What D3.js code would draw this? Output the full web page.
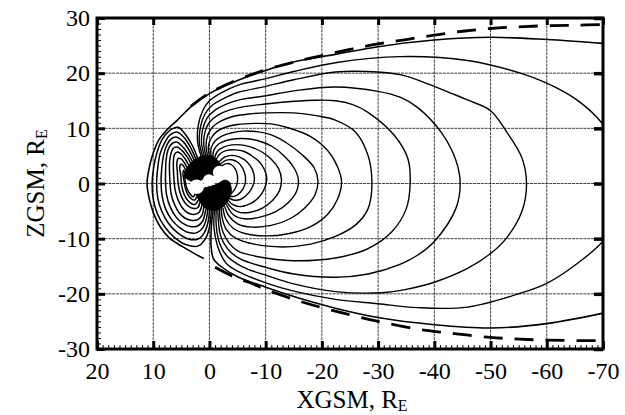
<!DOCTYPE html>
<html><head><meta charset="utf-8">
<script src="https://cdn.jsdelivr.net/npm/d3@7"></script>
<style>body{margin:0;background:#fff}svg{display:block}</style>
</head><body><svg id="c" width="625" height="415"></svg>
<script>
// ---- tick labels ----
const xTicks = [20, 10, 0, -10, -20, -30, -40, -50, -60, -70];
const zTicks = [30, 20, 10, 0, -10, -20, -30];

// ---- field lines (XGSM, ZGSM in Earth radii) ----
const dayLoops = [
 [[2.1,4.6],[3.0,6.8],[4.2,8.8],[5.6,10.2],[7.1,9.6],[8.4,8.0],[9.3,5.7],[9.9,3.0],[10.2,0],[10.0,-2.8],[9.3,-5.4],[8.0,-7.8],[6.2,-9.8],[4.1,-11.1],[2.0,-11.3],[0.6,-9.8],[-0.1,-7.4],[-0.3,-5.0]],
 [[2.4,4.4],[3.3,6.4],[4.4,8.2],[5.7,9.3],[7.0,8.8],[8.0,7.3],[8.8,5.3],[9.2,2.8],[9.4,0],[9.2,-2.6],[8.5,-5.0],[7.3,-7.2],[5.7,-8.9],[3.9,-10.0],[2.1,-10.1],[0.9,-8.9],[0.2,-6.8],[0,-4.9]],
 [[2.7,4.2],[3.6,6.0],[4.6,7.5],[5.8,8.4],[6.9,8.0],[7.7,6.7],[8.2,4.9],[8.5,2.6],[8.6,0],[8.4,-2.4],[7.8,-4.6],[6.7,-6.6],[5.3,-8.0],[3.7,-8.9],[2.2,-8.9],[1.1,-7.9],[0.5,-6.2],[0.3,-4.7]],
 [[3.0,3.9],[3.9,5.5],[4.8,6.7],[5.8,7.5],[6.8,7.1],[7.4,6.0],[7.7,4.4],[7.8,2.3],[7.8,0],[7.6,-2.2],[7.0,-4.2],[6.0,-6.0],[4.8,-7.2],[3.4,-7.8],[2.1,-7.7],[1.2,-6.8],[0.8,-5.5],[0.6,-4.5]],
 [[3.3,3.6],[4.1,5.0],[4.9,6.0],[5.8,6.6],[6.5,6.3],[6.9,5.2],[7.1,3.8],[7.1,2.0],[7.0,-0.1],[6.8,-2.0],[6.2,-3.8],[5.4,-5.3],[4.3,-6.3],[3.1,-6.7],[2.0,-6.5],[1.3,-5.7],[1.0,-4.2]],
 [[3.6,3.2],[4.3,4.4],[5.0,5.3],[5.7,5.7],[6.2,5.3],[6.4,4.2],[6.4,2.5],[6.3,0.6],[6.1,-1.2],[5.6,-2.9],[4.9,-4.3],[3.9,-5.3],[2.8,-5.6],[1.9,-5.3],[1.3,-3.8]],
 [[3.9,2.8],[4.5,3.8],[5.1,4.5],[5.6,4.5],[5.8,3.5],[5.7,2.0],[5.6,0.3],[5.3,-1.4],[4.8,-2.8],[4.0,-3.9],[3.0,-4.5],[2.1,-4.4],[1.7,-3.4]],
 [[4.2,2.3],[4.7,3.3],[5.1,3.5],[5.3,2.8],[5.1,1.6],[5.0,0],[4.7,-1.4],[4.2,-2.6],[3.4,-3.5],[2.6,-3.8],[2.0,-3.0]],
 [[4.3,1.8],[4.6,2.4],[4.7,1.6],[4.5,0.4],[4.3,-0.8],[3.9,-1.9],[3.3,-2.7],[2.6,-3.0],[2.3,-2.4]],
 [[4.4,1.2],[4.3,0.3],[4.0,-0.9],[3.5,-1.8],[2.9,-2.4],[2.5,-1.8]]
];

const nightLoops = [
 [[1.5,5.0],[2.1,7.5],[2.0,10.5],[1.2,13.2],[0,15.0],[-2,16.4],[-5,17.8],[-10,19.0],[-15,20.3],[-22.4,21.9],[-34,23.0],[-45.9,22.3],[-55.3,20],[-60,18.2],[-65.3,15.2],[-70,10.7],[-73,5],[-74,0],[-73,-5],[-70,-10.4],[-65.3,-14.6],[-60,-18.1],[-55.3,-19.9],[-45.9,-22.4],[-37,-22.5],[-30,-21.8],[-22.4,-21],[-15,-19.5],[-10,-18.0],[-6,-16.4],[-3,-14.5],[-1.5,-11.5],[-0.8,-8],[-0.9,-5.0]],
 [[1.2,5.0],[1.8,7.4],[1.6,10.2],[0.8,12.6],[-0.5,14.2],[-2.5,15.4],[-5,16.5],[-10,17.6],[-15,18.8],[-22.4,20.2],[-28,20.3],[-34.1,19.7],[-39,18],[-42.9,16.4],[-46,15.1],[-50,13.2],[-52.9,9.3],[-55.6,4.6],[-56.4,0],[-55.6,-5],[-52.9,-9.8],[-50,-12.7],[-45.9,-15.4],[-40,-17.9],[-35,-19.2],[-30.6,-19.8],[-22.4,-19.6],[-15,-18.2],[-10,-16.6],[-7,-15.6],[-5,-14.6],[-3,-13.0],[-1.7,-10.5],[-1.2,-7.5],[-1.2,-5.0]],
 [[0.9,5.0],[1.4,7.2],[1.2,9.8],[0.4,11.9],[-1,13.3],[-3,14.4],[-5.5,15.2],[-10,15.9],[-15,16.8],[-22.4,17.5],[-30,16.7],[-34,15.6],[-37,13.8],[-41.2,9.3],[-43.8,4.3],[-44.6,0],[-43.8,-4.6],[-40,-10.5],[-37,-13],[-34,-14.6],[-28.2,-16.4],[-22.4,-17],[-15,-16.4],[-10,-15.2],[-7,-14.3],[-5,-13.4],[-3.2,-11.8],[-2.0,-9.5],[-1.6,-7],[-1.5,-4.9]],
 [[0.6,5.0],[1.0,7.0],[0.8,9.3],[0,11.1],[-1.5,12.4],[-3.5,13.3],[-6,13.9],[-10,14.4],[-15,14.9],[-19,15.1],[-22.4,15.0],[-25.5,14.3],[-28.2,12.9],[-32.9,8.7],[-35.3,4.5],[-35.7,0],[-35,-4.6],[-32.4,-8.8],[-28.2,-11.8],[-22.4,-13.5],[-15,-14.0],[-10,-13.5],[-7,-12.9],[-5,-12.2],[-3.5,-10.8],[-2.4,-8.8],[-1.9,-6.6],[-1.8,-4.8]],
 [[0.3,5.0],[0.6,6.8],[0.3,8.8],[-0.6,10.3],[-2,11.3],[-4,12.1],[-7,12.6],[-10,12.8],[-15,12.8],[-19,12.3],[-22.4,11.5],[-26,9.3],[-28.2,5.1],[-28.9,0],[-28.2,-4.6],[-26,-7.5],[-22.4,-9.6],[-18,-11.0],[-13,-11.5],[-8,-11.0],[-4.5,-9.8],[-3.0,-8.3],[-2.3,-6.4],[-2.1,-4.6]],
 [[0,5.0],[0.2,6.6],[-0.3,8.2],[-1.3,9.4],[-2.8,10.2],[-5,10.7],[-8,10.9],[-11,10.8],[-14,10.1],[-18,8.5],[-21,6.0],[-22.8,3.0],[-23.5,0.3],[-22.8,-2.8],[-21,-5.6],[-18,-7.8],[-14,-9.1],[-10,-9.5],[-6.5,-9.1],[-4.2,-8.1],[-2.9,-6.4],[-2.4,-4.4]],
 [[-0.3,4.9],[-0.3,6.4],[-1.0,7.7],[-2.2,8.6],[-4,9.2],[-6,9.5],[-8.5,9.4],[-11,8.8],[-13.8,7.3],[-16.5,5.2],[-18.6,2.9],[-19.3,0.5],[-18.8,-2.0],[-17,-4.4],[-14.5,-6.3],[-11,-7.6],[-7.5,-7.9],[-5,-7.3],[-3.4,-5.8],[-2.7,-4.1]],
 [[-0.6,4.8],[-0.8,6.1],[-1.7,7.2],[-3,7.8],[-4.7,8.1],[-6.7,8.1],[-8.8,7.7],[-11,6.8],[-13.3,5.0],[-15.0,2.9],[-15.8,0.8],[-15.5,-1.4],[-14,-3.5],[-11.8,-5.1],[-9,-6.1],[-6.3,-6.4],[-4.3,-5.7],[-3.0,-3.8]],
 [[-0.9,4.6],[-1.4,5.8],[-2.5,6.6],[-4,7.0],[-5.6,7.0],[-7.4,6.6],[-9.2,5.8],[-11,4.4],[-12.3,2.7],[-12.8,0.8],[-12.5,-1.2],[-11.3,-3.0],[-9.5,-4.4],[-7.3,-5.2],[-5.2,-5.2],[-3.9,-4.4],[-3.2,-3.5]],
 [[-1.2,4.4],[-1.9,5.4],[-3.1,6.0],[-4.6,6.1],[-6.2,5.8],[-7.7,4.9],[-8.9,3.9],[-9.8,2.5],[-10.2,0.8],[-9.8,-0.9],[-8.8,-2.5],[-7.2,-3.7],[-5.4,-4.2],[-4.1,-3.8],[-3.4,-3.1]],
 [[-1.7,3.9],[-2.7,4.8],[-4.0,5.1],[-5.4,4.8],[-6.7,3.9],[-7.6,2.6],[-8.0,1.0],[-7.7,-0.5],[-6.8,-1.9],[-5.5,-2.9],[-4.3,-3.0],[-3.6,-2.7]],
 [[-1.9,3.5],[-2.9,4.2],[-4.0,4.3],[-5.1,3.8],[-5.9,2.8],[-6.4,1.3],[-6.3,-0.2],[-5.6,-1.5],[-4.6,-2.3],[-3.7,-2.3]],
 [[-2.1,3.1],[-3.0,3.6],[-3.9,3.4],[-4.6,2.6],[-5.0,1.3],[-4.9,-0.1],[-4.4,-1.2],[-3.8,-1.9]]
];

const openLines = [
 [[1,-13.6],[2.5,-12.8],[4.2,-11.8],[6.0,-10.7],[7.2,-9.8],[8.8,-7.8],[9.9,-5.5],[10.7,-2.8],[11.1,0],[10.8,2.4],[10.1,5.2],[9,7.9],[7.5,9.8],[5.7,11.5],[3.3,13.9],[0,16.3],[-5.1,18.7],[-10,20.5],[-15.3,22.1],[-22.4,23.4],[-30,24.8],[-40,26],[-50,26.5],[-60,26.1],[-70,25.4]],
 [[-0.6,-5.1],[-0.3,-8.5],[-0.3,-11.5],[-0.7,-13.6],[-2,-15.0],[-5,-16.9],[-10,-18.8],[-16,-20.8],[-22.4,-22.6],[-30,-24.3],[-40,-25.6],[-50,-26.2],[-60,-25.4],[-70,-23.5]]
];

const magnetopauseNorth = [[3.3,14.0],[0,16.4],[-5,18.8],[-10,20.6],[-15,22.0],[-20,23.2],[-25,24.3],[-30,25.3],[-35,26.1],[-40,26.9],[-45,27.6],[-50,28.1],[-55,28.4],[-60,28.6],[-65,28.7],[-70,28.8]];
const magnetopauseSouth = [[-1,-15.2],[-4.5,-17.0],[-7,-17.9],[-10,-19.2],[-15,-21.0],[-20,-22.5],[-25,-23.8],[-30,-25.0],[-37,-26.4],[-43.5,-27.2],[-50,-27.9],[-55,-28.2],[-60,-28.4],[-70,-28.5]];

// dense footpoint regions and white discs near Earth
const northCore = [[4.4,1.2],[4.0,2.8],[2.8,4.2],[1.0,5.1],[-0.6,4.9],[-1.8,3.8],[-2.1,2.8],[-0.8,1.5],[0.8,1.0],[2.5,0.2]];
const southCore = [[2.6,-1.2],[2.0,-2.8],[1.0,-4.2],[-0.5,-5.0],[-2.0,-4.6],[-3.3,-3.2],[-3.9,-1.5],[-3.6,0.2],[-2.6,0.6],[-1.2,-0.2],[0.8,-0.8]];
const whiteDiscs = [[2.3,-0.6,1.3],[0.1,0.6,1.05],[-1.8,2.0,1.2]];

// ---- drawing ----
const svg = d3.select("#c");
const L = 97, R = 603, T = 18, B = 349;
const x = d3.scaleLinear().domain([20, -70]).range([L, R]);
const y = d3.scaleLinear().domain([-30, 30]).range([B, T]);
const font = "'Liberation Serif','Times New Roman',serif";

svg.append("defs").append("clipPath").attr("id", "clip")
  .append("rect").attr("x", L).attr("y", T).attr("width", R - L).attr("height", B - T);

// grid
const grid = svg.append("g").attr("stroke", "#111").attr("stroke-width", 0.8).attr("stroke-dasharray", "3,0.8");
grid.selectAll("line.v").data(xTicks).join("line").attr("class", "v")
  .attr("x1", d => x(d)).attr("x2", d => x(d)).attr("y1", T).attr("y2", B);
grid.selectAll("line.h").data(zTicks).join("line").attr("class", "h")
  .attr("y1", d => y(d)).attr("y2", d => y(d)).attr("x1", L).attr("x2", R);

const plot = svg.append("g").attr("clip-path", "url(#clip)");
const line = d3.line().x(d => x(d[0])).y(d => y(d[1])).curve(d3.curveCatmullRom.alpha(0.5));

plot.selectAll("path.day").data(dayLoops).join("path").attr("class", "day")
  .attr("d", line).attr("fill", "none").attr("stroke", "#000").attr("stroke-width", 1.5);
plot.selectAll("path.night").data(nightLoops).join("path").attr("class", "night")
  .attr("d", line).attr("fill", "none").attr("stroke", "#000").attr("stroke-width", 1.4);
plot.selectAll("path.open").data(openLines).join("path").attr("class", "open")
  .attr("d", line).attr("fill", "none").attr("stroke", "#000").attr("stroke-width", 1.6);

const closed = d3.line().x(d => x(d[0])).y(d => y(d[1])).curve(d3.curveCardinalClosed.tension(0.2));
plot.selectAll("path.core").data([northCore, southCore]).join("path").attr("class", "core")
  .attr("d", closed).attr("fill", "#000").attr("stroke", "#000").attr("stroke-width", 1);
plot.selectAll("circle.disc").data(whiteDiscs).join("circle").attr("class", "disc")
  .attr("cx", d => x(d[0])).attr("cy", d => y(d[1])).attr("r", d => x(0) - x(d[2]))
  .attr("fill", "#fff");

plot.selectAll("path.mp").data([magnetopauseNorth, magnetopauseSouth]).join("path").attr("class", "mp")
  .attr("d", line).attr("fill", "none").attr("stroke", "#000").attr("stroke-width", 2.8)
  .attr("stroke-dasharray", "19,12");

// axes
function styleAxis(g) { g.select(".domain").remove(); g.selectAll(".tick line").attr("stroke", "#000"); }
const axL = svg.append("g").attr("transform", `translate(${L},0)`)
  .call(d3.axisLeft(y).tickValues(zTicks).tickSize(-8).tickPadding(7).tickFormat(d => String(d)));
axL.call(styleAxis); axL.selectAll(".tick line").attr("stroke-width", 3);
axL.selectAll("text").attr("font-family", font).attr("font-size", 24).attr("fill", "#000");
const minorZ = d3.range(-30, 31, 1), minorX = d3.range(-70, 21, 1);
svg.append("g").attr("transform", `translate(${L},0)`)
  .call(d3.axisLeft(y).tickValues(minorZ).tickSize(-4).tickFormat("")).call(styleAxis)
  .selectAll(".tick line").attr("stroke-width", 1);
const axB = svg.append("g").attr("transform", `translate(0,${B})`)
  .call(d3.axisBottom(x).tickValues(xTicks).tickSize(-8).tickPadding(13).tickFormat(d => String(d)));
axB.call(styleAxis); axB.selectAll(".tick line").attr("stroke-width", 3);
axB.selectAll("text").attr("font-family", font).attr("font-size", 24).attr("fill", "#000");
svg.append("g").attr("transform", `translate(0,${B})`)
  .call(d3.axisBottom(x).tickValues(minorX).tickSize(-4).tickFormat("")).call(styleAxis)
  .selectAll(".tick line").attr("stroke-width", 1);
svg.append("g").attr("transform", `translate(0,${T})`)
  .call(d3.axisTop(x).tickValues(xTicks).tickSize(-7).tickFormat("")).call(styleAxis)
  .selectAll(".tick line").attr("stroke-width", 3);
svg.append("g").attr("transform", `translate(${R},0)`)
  .call(d3.axisRight(y).tickValues(zTicks).tickSize(-9).tickFormat("")).call(styleAxis)
  .selectAll(".tick line").attr("stroke-width", 3.5);

// frame
svg.append("rect").attr("x", L).attr("y", T).attr("width", R - L).attr("height", B - T)
  .attr("fill", "none").attr("stroke", "#000").attr("stroke-width", 3);

// titles
const xt = svg.append("text").attr("x", 352).attr("y", 408).attr("text-anchor", "middle")
  .attr("font-family", font).attr("font-size", 25).attr("fill", "#000");
xt.append("tspan").text("XGSM, R");
xt.append("tspan").attr("dy", 3).attr("font-size", 16).text("E");
const yt = svg.append("text").attr("transform", `translate(44,${(T + B) / 2}) rotate(-90)`)
  .attr("text-anchor", "middle").attr("font-family", font).attr("font-size", 25).attr("fill", "#000");
yt.append("tspan").text("ZGSM, R");
yt.append("tspan").attr("dy", 3).attr("font-size", 16).text("E");
</script></body></html>
